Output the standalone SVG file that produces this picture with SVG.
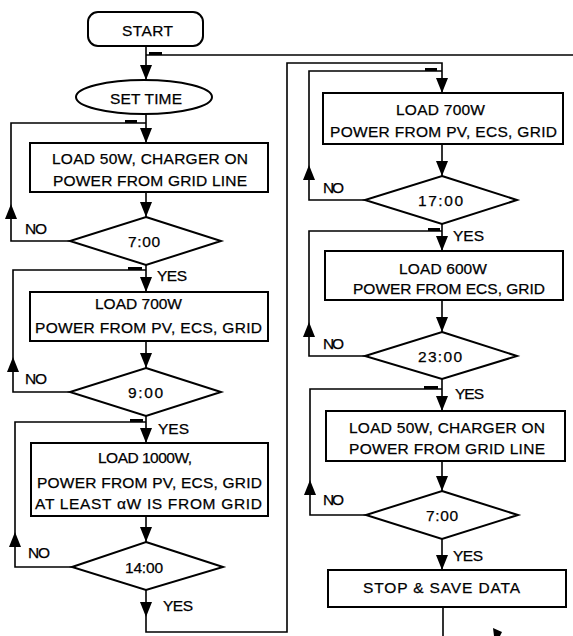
<svg xmlns="http://www.w3.org/2000/svg" xmlns:xlink="http://www.w3.org/1999/xlink" width="573" height="636" viewBox="0 0 573 636">
<style>
text{font-family:"Liberation Sans",Arial,sans-serif;font-size:15.5px;fill:#000;stroke:#000;stroke-width:0.25}
.c{text-anchor:middle}
.s{fill:#fff;stroke:#000;stroke-width:2}
.l{fill:none;stroke:#000;stroke-width:1.6}
.t{stroke:#000;stroke-width:3}
.a{fill:#000}
</style>
<defs>
<path id="ad" d="M0,0 L-6,-15 L6,-15Z"/>
<path id="au" d="M0,0 L-6,15 L6,15Z"/>
</defs>
<rect width="573" height="636" fill="#fff"/>
<g id="connectors">
<path class="l" d="M146,46 V143 M146,192 V217 M146,265 V292 M146,341 V368 M146,416 V443 M146,516 V542 M146,590 V632 H287 V63 H442 V93"/>
<path class="l" d="M146,55 H573"/>
<path class="l" d="M70,241 H11 V123 H146"/>
<path class="l" d="M70,392 H13 V270 H146"/>
<path class="l" d="M72,567 H15 V422 H146"/>
<path class="l" d="M442,144 V176 M442,224 V251 M442,300 V332 M442,379 V411 M442,461 V491 M442,539 V570 M443,607 V636"/>
<path class="l" d="M365,200 H309 V71 H442"/>
<path class="l" d="M365,356 H309 V231 H442"/>
<path class="l" d="M366,515 H310 V389 H442"/>
<g class="a">
<use xlink:href="#ad" x="146" y="80"/>
<use xlink:href="#ad" x="146" y="143"/>
<use xlink:href="#ad" x="146" y="217"/>
<use xlink:href="#ad" x="146" y="292"/>
<use xlink:href="#ad" x="146" y="368"/>
<use xlink:href="#ad" x="146" y="443"/>
<use xlink:href="#ad" x="146" y="542"/>
<use xlink:href="#ad" x="146" y="617"/>
<use xlink:href="#ad" x="442" y="93"/>
<use xlink:href="#ad" x="442" y="176"/>
<use xlink:href="#ad" x="442" y="251"/>
<use xlink:href="#ad" x="442" y="332"/>
<use xlink:href="#ad" x="442" y="411"/>
<use xlink:href="#ad" x="442" y="491"/>
<use xlink:href="#ad" x="442" y="570"/>
<use xlink:href="#au" x="11" y="204"/>
<use xlink:href="#au" x="13" y="357"/>
<use xlink:href="#au" x="15" y="532"/>
<use xlink:href="#au" x="309" y="165"/>
<use xlink:href="#au" x="309" y="322"/>
<use xlink:href="#au" x="310" y="480"/>
<polygon points="493,628 502,632 500,636 494,636"/>
</g>
<path class="t" d="M149,53.5 H162 M125,121.5 H137 M128,268.5 H142 M130,420.5 H143 M425,69.5 H437 M428,229.5 H440 M424,387.5 H438"/>
</g>
<g id="start"><rect class="s" x="88" y="12" width="115" height="34" rx="10"/><text class="c" x="147.5" y="35.5" textLength="51">START</text></g>
<g id="settime"><ellipse class="s" cx="144" cy="97" rx="68" ry="17"/><text class="c" x="146" y="103.5" textLength="72">SET TIME</text></g>
<g id="box1"><rect class="s" x="30" y="143" width="238" height="49"/><text class="c" x="150" y="163.5" textLength="196">LOAD 50W, CHARGER ON</text><text class="c" x="150" y="185.5" textLength="194">POWER FROM GRID LINE</text></g>
<g id="d700a"><polygon class="s" points="146,217 221,241 146,265 70,241"/><text class="c" x="144" y="246.5" textLength="32">7:00</text></g>
<g id="box2"><rect class="s" x="30" y="292" width="238" height="49"/><text class="c" x="138.5" y="308.5" textLength="87">LOAD 700W</text><text class="c" x="148.5" y="332.5" textLength="227">POWER FROM PV, ECS, GRID</text></g>
<g id="d900"><polygon class="s" points="146,368 221,392 146,416 70,392"/><text class="c" x="145.5" y="397.5" textLength="35">9:00</text></g>
<g id="box3"><rect class="s" x="31" y="443" width="237" height="73"/><text class="c" x="145" y="462.5" textLength="94">LOAD 1000W,</text><text class="c" x="149.5" y="487.5" textLength="225">POWER FROM PV, ECS, GRID</text><text class="c" x="148.5" y="508.5" textLength="227">AT LEAST αW IS FROM GRID</text></g>
<g id="d1400"><polygon class="s" points="146,542 223,567 146,590 72,567"/><text class="c" x="144" y="572.5" textLength="38">14:00</text></g>
<g id="box4"><rect class="s" x="323" y="93" width="240" height="51"/><text class="c" x="440.5" y="114.5" textLength="89">LOAD 700W</text><text class="c" x="443.5" y="136.5" textLength="227">POWER FROM PV, ECS, GRID</text></g>
<g id="d1700"><polygon class="s" points="442,176 517,200 442,224 365,200"/><text class="c" x="440.5" y="205.5" textLength="45">17:00</text></g>
<g id="box5"><rect class="s" x="325" y="251" width="238" height="49"/><text class="c" x="443" y="273.5" textLength="88">LOAD 600W</text><text class="c" x="449" y="293.5" textLength="192">POWER FROM ECS, GRID</text></g>
<g id="d2300"><polygon class="s" points="442,332 517,356 442,379 365,356"/><text class="c" x="440" y="361.5" textLength="44">23:00</text></g>
<g id="box6"><rect class="s" x="326" y="411" width="239" height="50"/><text class="c" x="447" y="432.5" textLength="196">LOAD 50W, CHARGER ON</text><text class="c" x="447" y="453.5" textLength="196">POWER FROM GRID LINE</text></g>
<g id="d700b"><polygon class="s" points="442,491 518,515 442,539 366,515"/><text class="c" x="442" y="520.5" textLength="32">7:00</text></g>
<g id="stop"><rect class="s" x="328" y="570" width="238" height="37"/><text class="c" x="441.5" y="592.5" textLength="157">STOP &amp; SAVE DATA</text></g>
<g id="labels">
<text x="25" y="233.5" textLength="22">NO</text>
<text x="157" y="280.5" textLength="30">YES</text>
<text x="25" y="383.5" textLength="22">NO</text>
<text x="158" y="433.5" textLength="31">YES</text>
<text x="28" y="557.5" textLength="22">NO</text>
<text x="163" y="610.5" textLength="30">YES</text>
<text x="323" y="192.5" textLength="21">NO</text>
<text x="453" y="240.5" textLength="31">YES</text>
<text x="323" y="348.5" textLength="21">NO</text>
<text x="455" y="398.5" textLength="29">YES</text>
<text x="323" y="504.5" textLength="21">NO</text>
<text x="453" y="560.5" textLength="30">YES</text>
</g>
</svg>
